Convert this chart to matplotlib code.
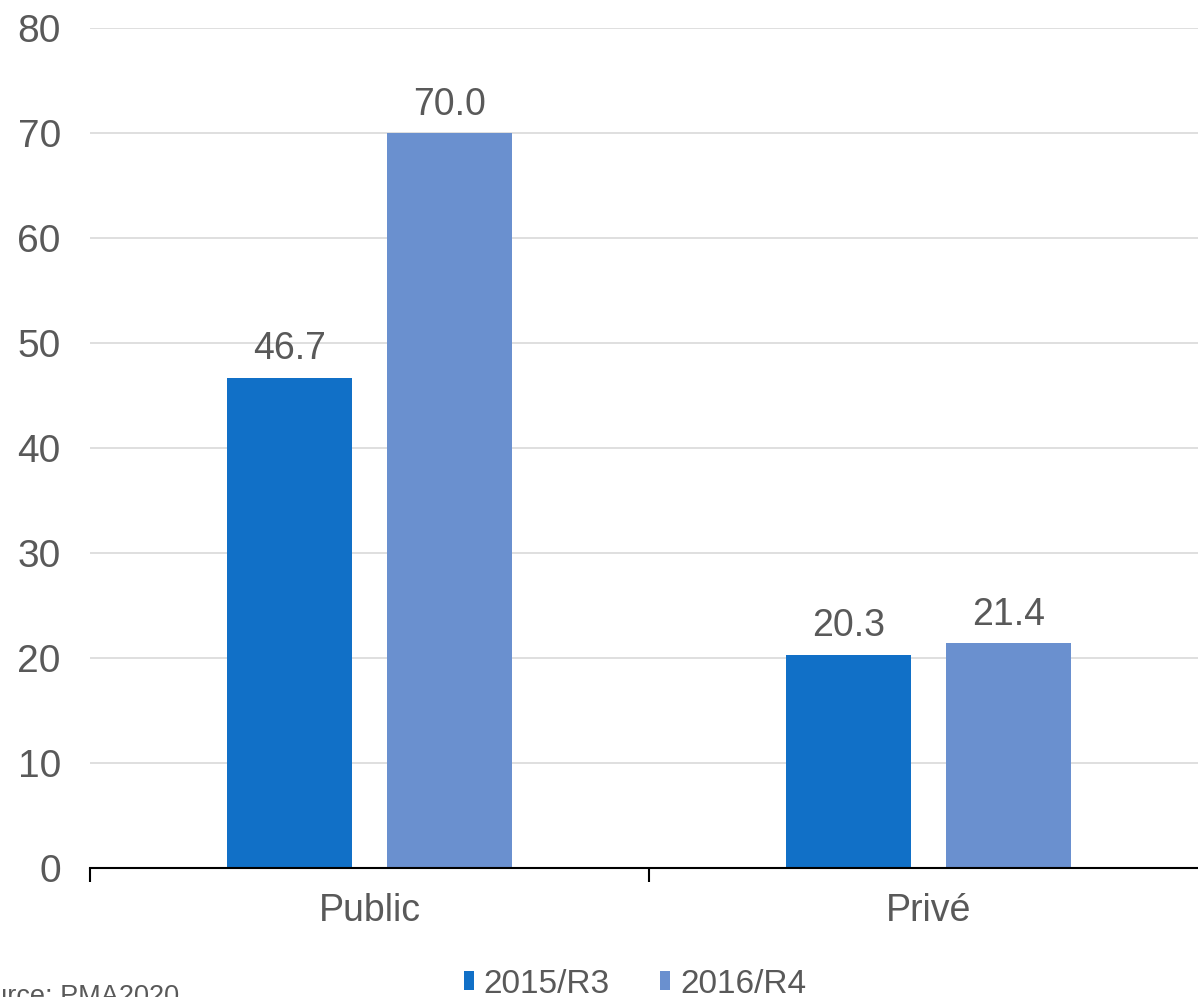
import numpy as np
import matplotlib.pyplot as plt

plt.rcParams['font.family'] = ['Liberation Sans', 'DejaVu Sans']

categories = ['Public', 'Privé']
series = ['2015/R3', '2016/R4']
values_2015 = [46.7, 20.3]
values_2016 = [70.0, 21.4]
colors = ['#1170C7', '#6A90CF']
text_color = '#595959'

fig = plt.figure(figsize=(11.98, 9.97), dpi=100)
ax = fig.add_axes([0.0751, 0.1294, 0.9332, 0.8425])

x = np.arange(len(categories))
width = 0.2236
offset = 0.143
bars1 = ax.bar(x - offset, values_2015, width, color=colors[0], label=series[0], zorder=3)
bars2 = ax.bar(x + offset, values_2016, width, color=colors[1], label=series[1], zorder=3)

for bars in (bars1, bars2):
    for b in bars:
        ax.text(b.get_x() + b.get_width() / 2, b.get_height() + 1.0, f'{b.get_height():.1f}',
                ha='center', va='bottom', fontsize=27, color=text_color)

ax.set_xlim(-0.5, 1.5)
ax.set_ylim(0, 80)
ax.set_yticks(range(0, 81, 10))
ax.yaxis.grid(True, color='#d9d9d9', linewidth=1.2, zorder=0)
ax.set_axisbelow(True)

# category labels at centers, tick marks at category boundaries
ax.set_xticks(x)
ax.set_xticklabels(categories)
ax.tick_params(axis='x', length=0, pad=18, labelsize=27, labelcolor=text_color)
ax.set_xticks([-0.5, 0.5, 1.5], minor=True)
ax.tick_params(axis='x', which='minor', length=10, width=1.5, color='black', direction='out')
ax.tick_params(axis='y', length=0, pad=21, labelsize=28, labelcolor=text_color)

for side in ['left', 'right', 'top']:
    ax.spines[side].set_visible(False)
ax.spines['bottom'].set_color('black')
ax.spines['bottom'].set_linewidth(1.5)
ax.spines['bottom'].set_zorder(4)

fig.legend(handles=[bars1, bars2], labels=series, loc='center', bbox_to_anchor=(0.53, 0.013),
           ncol=2, frameon=False, fontsize=24, handlelength=0.3, handleheight=0.48,
           handletextpad=0.3, columnspacing=1.5, labelcolor=text_color)

fig.text(-0.034, 0.0, 'Source: PMA2020', fontsize=19.5, color=text_color, ha='left', va='center')

fig.savefig('out.png', dpi=100)
